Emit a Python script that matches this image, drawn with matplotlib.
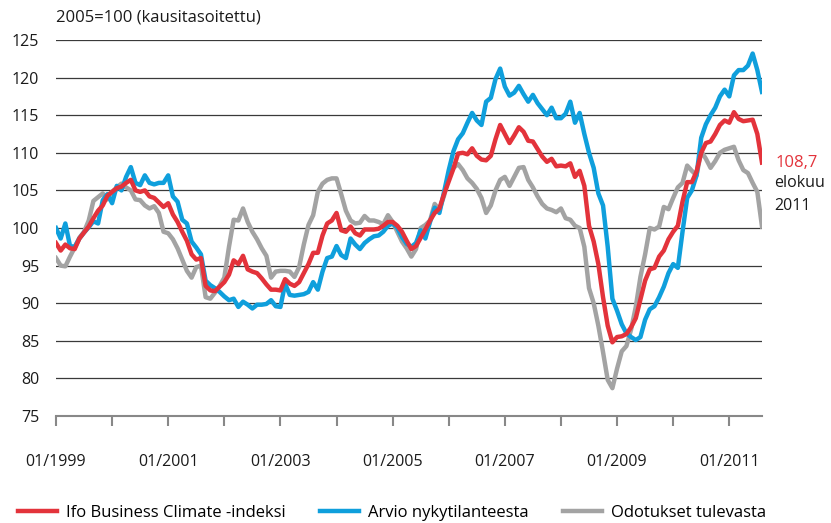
import numpy as np
import pandas as pd
import matplotlib
matplotlib.use('Agg')
import matplotlib.pyplot as plt

plt.rcParams['font.family'] = ['Open Sans', 'DejaVu Sans']

# Monthly index values, 01/1999 - 08/2011 (2005=100, seasonally adjusted)
months = pd.date_range('1999-01-01', '2011-08-01', freq='MS')

ifo_climate = [
    98.0, 97.0, 97.8, 97.3, 97.2, 98.6, 99.4, 100.2, 101.3, 102.3, 103.0, 104.3,
    104.8, 105.3, 105.5, 106.0, 106.4, 105.0, 104.8, 105.0, 104.2, 104.0, 103.4, 102.8,
    103.3, 101.8, 100.8, 99.5, 98.3, 96.5, 95.8, 96.0, 92.3, 91.7, 91.6, 92.2,
    92.8, 93.8, 95.7, 95.2, 96.3, 94.5, 94.2, 94.0, 93.3, 92.5, 91.8, 91.8,
    91.7, 93.2, 92.6, 92.3, 92.8, 94.0, 95.2, 96.7, 96.7, 99.0, 100.6, 101.0,
    102.0, 99.7, 99.5, 100.2, 99.3, 99.0, 99.8, 99.8, 99.8, 99.9, 100.3, 100.8,
    100.8, 100.3, 99.5, 98.3, 97.2, 97.6, 98.7, 99.8, 101.0, 102.0, 102.6, 104.5,
    106.2, 107.9, 109.9, 110.0, 109.8, 110.6, 109.6, 109.1, 109.0, 109.6, 111.8, 113.7,
    112.5, 111.3, 112.3, 113.4, 112.8, 111.6, 111.5, 110.5, 109.5, 108.8, 109.2, 108.2,
    108.3, 108.2, 108.6, 106.8, 107.6, 105.6, 100.3, 98.2, 95.2, 90.8, 87.0, 84.8,
    85.5, 85.6, 85.9, 86.8, 88.0, 90.5, 93.0, 94.5, 94.7, 96.2, 97.0, 98.5,
    99.5, 100.3, 103.5, 106.1, 106.1, 107.5, 110.0, 111.3, 111.5, 112.5, 113.7, 114.3,
    114.0, 115.4, 114.5, 114.2, 114.3, 114.4, 112.5, 108.7,
]

current_situation = [
    100.0, 98.6, 100.6, 97.6, 97.5, 98.6, 99.4, 100.1, 100.9, 100.6, 103.7, 104.5,
    103.3, 105.6, 105.0, 106.8, 108.1, 106.0, 105.7, 107.0, 106.0, 105.8, 106.0, 106.0,
    107.0, 104.2, 103.5, 101.1, 100.6, 98.2, 97.4, 96.5, 93.0, 92.4, 92.0, 91.5,
    90.9, 90.4, 90.6, 89.5, 90.2, 89.8, 89.3, 89.8, 89.8, 89.9, 90.4, 89.6,
    89.5, 92.6, 91.1, 91.0, 91.1, 91.2, 91.5, 92.8, 91.8, 94.2, 96.0, 96.2,
    97.6, 96.4, 96.0, 98.6, 97.8, 97.2, 98.0, 98.5, 98.9, 99.0, 99.5, 100.3,
    100.6, 100.0, 98.8, 97.9, 97.5, 98.0, 99.7, 98.6, 100.8, 102.7, 102.0, 104.8,
    107.7, 110.2, 111.8, 112.6, 114.0, 115.3, 114.3, 113.7, 116.8, 117.3, 119.8, 121.2,
    118.8, 117.6, 118.0, 118.9, 117.8, 116.8, 117.7, 116.6, 115.8, 115.0, 116.0, 114.6,
    114.6, 115.2, 116.8, 114.0, 115.3, 112.5, 110.0, 108.0, 104.6, 103.0, 97.5, 90.6,
    89.0, 87.2, 86.0, 85.5, 85.1, 85.5, 87.8, 89.2, 89.6, 90.8, 92.2, 94.0,
    95.2, 94.7, 99.5, 104.0, 105.0, 107.0, 112.0, 113.8, 115.0, 116.0, 117.5, 118.4,
    117.5, 120.3, 121.0, 121.0, 121.6, 123.2, 121.0, 118.1,
]

expectations = [
    96.0, 95.0, 94.9, 96.2, 97.4, 98.7, 99.5, 101.0, 103.6, 104.1, 104.6, 103.8,
    104.8, 105.4, 105.9, 105.4, 105.0, 103.8, 103.7, 103.0, 102.6, 102.9, 102.0, 99.5,
    99.3, 98.5, 97.3, 95.8, 94.3, 93.4, 94.8, 95.0, 90.8, 90.6, 91.4, 92.3,
    93.4, 97.5, 101.1, 101.0, 102.6, 100.8, 99.5, 98.5, 97.3, 96.3, 93.4, 94.2,
    94.3, 94.3, 94.2, 93.5, 94.8, 97.8, 100.4, 101.7, 104.8, 105.9, 106.4, 106.6,
    106.6, 104.5, 102.3, 101.0, 100.6, 100.7, 101.6, 101.0, 101.0, 100.8, 100.5, 101.7,
    100.8, 99.5, 98.2, 97.3, 96.2, 97.2, 100.0, 100.4, 101.0, 103.2, 102.4, 104.3,
    106.8, 108.0, 108.5, 107.7, 106.6, 106.0, 105.2, 104.0, 102.0, 103.0, 105.0, 106.4,
    106.8, 105.6, 106.8, 108.0, 108.1, 106.4, 105.4, 104.2, 103.2, 102.6, 102.4, 102.1,
    102.6, 101.3, 101.1, 100.3, 100.0, 97.5, 92.0, 90.0, 87.0, 83.5, 79.8, 78.7,
    81.3, 83.6, 84.3, 86.5, 89.5, 93.5, 96.5, 100.0, 99.8, 100.2, 102.8, 102.5,
    104.0, 105.4, 106.0, 108.3, 107.6, 107.0, 110.2, 109.2, 108.0, 108.9, 110.0, 110.4,
    110.6, 110.8, 109.0, 107.7, 107.3, 106.0, 104.8, 100.2,
]

series_names = ['Ifo Business Climate -indeksi', 'Arvio nykytilanteesta', 'Odotukset tulevasta']
colors = ['#e3333b', '#0f9fdc', '#a3a3a3']

fig = plt.figure(figsize=(8.31, 5.23), dpi=100)
ax = fig.add_axes([56/831, 1 - 416/523, (762 - 56)/831, (416 - 40)/523])

x = np.arange(len(months))
ax.plot(x, ifo_climate, color=colors[0], lw=3.2, label=series_names[0], zorder=4,
        solid_joinstyle='round')
ax.plot(x, current_situation, color=colors[1], lw=3.2, label=series_names[1], zorder=3,
        solid_joinstyle='round')
ax.plot(x, expectations, color=colors[2], lw=3.2, label=series_names[2], zorder=2,
        solid_joinstyle='round')

ax.set_xlim(0, len(months) - 1)
ax.set_ylim(75, 125)
ax.set_yticks(np.arange(75, 126, 5))
ax.yaxis.grid(True, color='#3a3a3a', lw=0.9)
ax.set_axisbelow(True)
for s in ['top', 'right', 'left']:
    ax.spines[s].set_visible(False)
ax.spines['bottom'].set_color('#888888')
ax.spines['bottom'].set_linewidth(1.5)
ax.tick_params(axis='y', length=0, pad=12, labelsize=11.5, labelcolor='#1a1a1a')

year_ticks = [i for i, m in enumerate(months) if m.month == 1]
ax.set_xticks(year_ticks)
ax.set_xticklabels([f"01/{months[i].year}" if months[i].year % 2 == 1 else ''
                    for i in year_ticks])
ax.tick_params(axis='x', direction='out', length=7, width=1.5, color='#888888',
               pad=20, labelsize=11.5, labelcolor='#1a1a1a')

fig.text(56/831, 1 - 17/523, '2005=100 (kausitasoitettu)', fontsize=12,
         color='#1a1a1a', va='center', ha='left')

last = (x[-1], ifo_climate[-1])
ax.annotate('108,7', xy=last, xytext=(10, 0), textcoords='offset points',
            color=colors[0], fontsize=12, va='center', ha='left', annotation_clip=False)
ax.annotate('elokuu', xy=last, xytext=(9, -15), textcoords='offset points',
            color='#1a1a1a', fontsize=11.5, va='center', ha='left', annotation_clip=False)
ax.annotate('2011', xy=last, xytext=(9, -31), textcoords='offset points',
            color='#1a1a1a', fontsize=11.5, va='center', ha='left', annotation_clip=False)

fig.legend(loc='center left', bbox_to_anchor=(18/831, 1 - 513/523), ncol=3,
           frameon=False, fontsize=12, handlelength=2.35, handletextpad=0.5,
           columnspacing=2.1, borderaxespad=0, borderpad=0)

plt.savefig('out.png', dpi=100)
